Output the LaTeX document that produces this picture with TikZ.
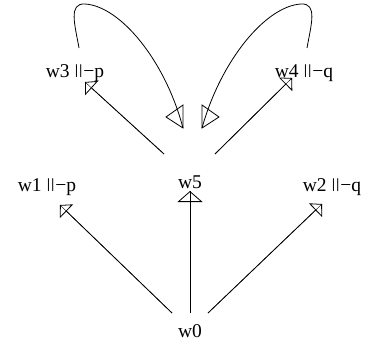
\documentclass[tikz,border=0pt]{standalone}
\usepackage{fontspec}
\usepackage{graphicx}
\setmainfont{Liberation Serif}
\usetikzlibrary{arrows.meta}
\newcommand{\vbar}{\raisebox{0.14em}{\scalebox{1}[0.72]{|}}}
\newcommand{\forc}{\vbar\kern0.5pt\vbar\kern0.5pt−}
\begin{document}
\begin{tikzpicture}[x=1pt,y=-1pt,
  lbl/.style={anchor=base,inner sep=0pt,font=\fontsize{19.5}{22}\selectfont},
  ln/.style={line width=0.8pt},
  arr/.style={ln,-{Triangle[open,length=9pt,width=19pt]},preaction={draw,-}},
  bigarr/.style={ln,-{Triangle[open,length=11pt,width=25pt]},preaction={draw,-}}]
\useasboundingbox (0,0) rectangle (379,345);
\node[lbl] (w0) at (190,337) {w0};
\node[lbl] (w5) at (190,188) {w5};
\node[lbl] (w1) at (47,191) {w1 \forc p};
\node[lbl] (w2) at (332,191) {w2 \forc q};
\node[lbl] (w3) at (75,77) {w3 \forc p};
\node[lbl] (w4) at (304,77) {w4 \forc q};
\draw[arr] ([shift={(-18,-24)}]w0.base) -- ([shift={(13,14)}]w1.base);
\draw[bigarr] ([shift={(0,-24)}]w0.base) -- ([shift={(0,3)}]w5.base);
\draw[arr] ([shift={(18,-24)}]w0.base) -- ([shift={(-10,13)}]w2.base);
\draw[arr] ([shift={(-26,-34)}]w5.base) -- ([shift={(10,5)}]w3.base);
\draw[arr] ([shift={(25,-34)}]w5.base) -- ([shift={(-12,1)}]w4.base);
\draw[ln] ([shift={(4,-29)}]w3.base) .. controls (75,25) and (68,3) .. (85,4)
  .. controls (120,6) and (165,60) .. ([shift={(-7,-60)}]w5.base) coordinate (e3);
\draw[ln] (e3) -- ++(0,-23) -- ++(-17,12) -- cycle;
\draw[ln] ([shift={(3,-29)}]w4.base) .. controls (311,25) and (318,3) .. (301,4)
  .. controls (266,6) and (221,60) .. ([shift={(12,-60)}]w5.base) coordinate (e4);
\draw[ln] (e4) -- ++(0,-23) -- ++(17,12) -- cycle;
\end{tikzpicture}
\end{document}
